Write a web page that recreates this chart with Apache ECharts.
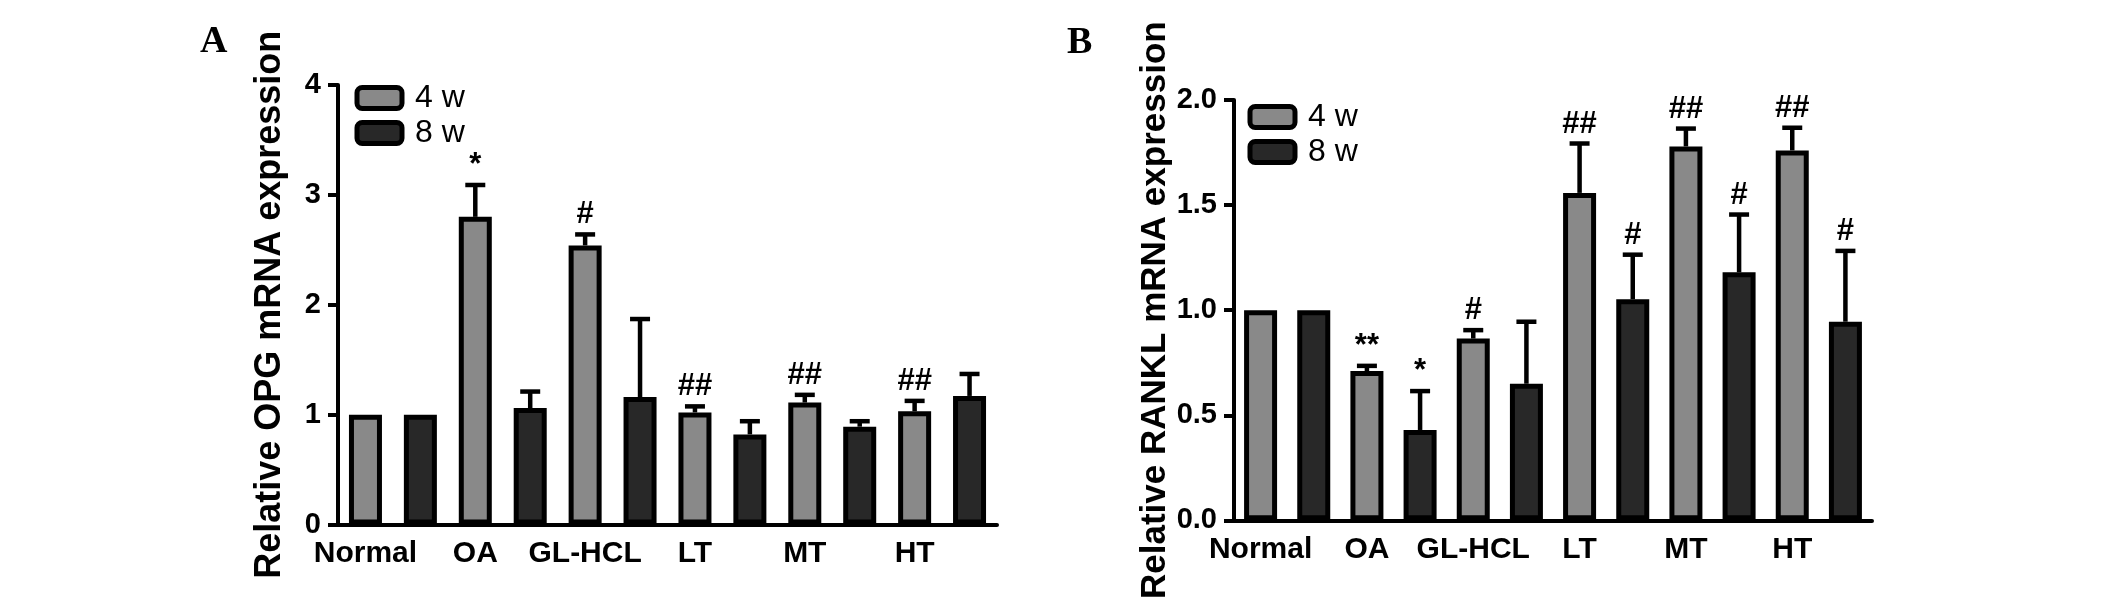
<!DOCTYPE html>
<html>
<head>
<meta charset="utf-8">
<script src="https://cdn.jsdelivr.net/npm/echarts@6/dist/echarts.min.js"></script>
<style>
html,body{margin:0;padding:0;background:#fff;}
#chart{width:2126px;height:601px;}
</style>
</head>
<body>
<div id="chart"></div>
<script>
// ---- data ----
const categories = ['Normal', 'OA', 'GL-HCL', 'LT', 'MT', 'HT'];
const seriesNames = ['4 w', '8 w'];

const opg4w = [1.00, 2.80, 2.54, 1.02, 1.11, 1.03];
const opg8w = [1.00, 1.06, 1.16, 0.82, 0.89, 1.17];
const opgErr4w = [0, 0.29, 0.10, 0.055, 0.07, 0.095];
const opgErr8w = [0, 0.15, 0.71, 0.12, 0.05, 0.20];
const opgSig4w = ['', '*', '#', '##', '##', '##'];
const opgSig8w = ['', '', '', '', '', ''];
const opgTicks = [0, 1, 2, 3, 4];

const rankl4w = [1.00, 0.71, 0.865, 1.558, 1.779, 1.76];
const rankl8w = [1.00, 0.43, 0.65, 1.052, 1.18, 0.945];
const ranklErr4w = [0, 0.025, 0.04, 0.235, 0.085, 0.108];
const ranklErr8w = [0, 0.185, 0.295, 0.212, 0.275, 0.337];
const ranklSig4w = ['', '**', '#', '##', '##', '##'];
const ranklSig8w = ['', '*', '', '#', '#', '#'];
const ranklTicks = [0, 0.5, 1.0, 1.5, 2.0];

const titleA = 'Relative OPG mRNA expression';
const titleB = 'Relative RANKL mRNA expression';

// ---- helpers ----
const FONT = '"Liberation Sans", Arial, sans-serif';
const GRAY = '#898989';
const DARK = '#282828';
const slots = categories.flatMap(c => [c, c + ' (8 w)']);
const isMain = (i) => i % 2 === 0;

function slotData(v4, v8) {
  return [categories.flatMap((c, i) => [v4[i], '-']), categories.flatMap((c, i) => ['-', v8[i]])];
}
function errData(v4, v8, e4, e8, s4, s8) {
  const data = [], sig = [];
  categories.forEach((c, i) => {
    data.push([2 * i, v4[i], e4[i]]); sig.push(s4[i]);
    data.push([2 * i + 1, v8[i], e8[i]]); sig.push(s8[i]);
  });
  return {data, sig};
}
function makeRender(sig) {
  return function (params, api) {
    const idx = api.value(0), m = api.value(1), e = api.value(2);
    const base = api.coord([idx, m]);
    const top = api.coord([idx, m + e]);
    const children = [];
    if (e > 0) {
      children.push({type: 'line', shape: {x1: base[0], y1: base[1], x2: base[0], y2: top[1]}, style: {stroke: '#000', lineWidth: 4.5}});
      children.push({type: 'line', shape: {x1: base[0] - 10, y1: top[1], x2: base[0] + 10, y2: top[1]}, style: {stroke: '#000', lineWidth: 4.5}});
    }
    const s = sig[params.dataIndex];
    if (s) {
      children.push({type: 'text', style: {text: s, x: base[0], y: (e > 0 ? top[1] : base[1]) - 4,
        align: 'center', verticalAlign: 'bottom', font: 'bold 31px ' + FONT, fill: '#000'}});
    }
    return {type: 'group', children};
  };
}

function xAxisCfg(gi) {
  return {
    type: 'category', gridIndex: gi, data: slots,
    axisLine: {lineStyle: {color: '#000', width: 4}},
    axisTick: {alignWithLabel: true, interval: isMain, length: 10, lineStyle: {color: '#000', width: 4}},
    axisLabel: {interval: isMain, formatter: v => v, margin: 14, color: '#000', fontSize: 30, fontWeight: 'bold', fontFamily: FONT},
    splitLine: {show: false}
  };
}
function yAxisCfg(gi, ticks, name, nameSize, fmt) {
  return {
    type: 'value', gridIndex: gi, min: ticks[0], max: ticks[ticks.length - 1], interval: ticks[1] - ticks[0],
    name: name, nameLocation: 'middle', nameGap: 50,
    nameTextStyle: {color: '#000', fontSize: nameSize, fontWeight: 'bold', fontFamily: FONT},
    axisLine: {show: true, lineStyle: {color: '#000', width: 4}},
    axisTick: {show: true, length: 10, lineStyle: {color: '#000', width: 4}},
    axisLabel: {margin: 17, color: '#000', fontSize: 29, fontWeight: 'bold', fontFamily: FONT, formatter: fmt},
    splitLine: {show: false}
  };
}
function barSeries(name, data, color, gi) {
  return {
    type: 'bar', name: name, xAxisIndex: gi, yAxisIndex: gi, data: data,
    barWidth: 33, barGap: '-100%',
    itemStyle: {color: color, borderColor: '#000', borderWidth: 5},
    emphasis: {disabled: true}, z: 2
  };
}
function legendCfg(left, top) {
  return {
    data: seriesNames, orient: 'vertical', left: left, top: top, padding: 0,
    itemWidth: 45, itemHeight: 21, itemGap: 3, icon: 'roundRect',
    itemStyle: {borderColor: '#000', borderWidth: 5},
    textStyle: {color: '#000', fontSize: 32, fontFamily: FONT, lineHeight: 32, padding: [0, 0, 0, 8]},
    selectedMode: false
  };
}

const [a4, a8] = slotData(opg4w, opg8w);
const [b4, b8] = slotData(rankl4w, rankl8w);
const ea = errData(opg4w, opg8w, opgErr4w, opgErr8w, opgSig4w, opgSig8w);
const eb = errData(rankl4w, rankl8w, ranklErr4w, ranklErr8w, ranklSig4w, ranklSig8w);

const chart = echarts.init(document.getElementById('chart'), null, {renderer: 'canvas'});
chart.setOption({
  backgroundColor: '#fff',
  animation: false,
  grid: [
    {left: 338, right: 1129, top: 85, bottom: 76.5},
    {left: 1234, right: 254, top: 100, bottom: 75.5}
  ],
  xAxis: [xAxisCfg(0), xAxisCfg(1)],
  yAxis: [
    yAxisCfg(0, opgTicks, titleA, 36, v => String(v)),
    yAxisCfg(1, ranklTicks, titleB, 35, v => v.toFixed(1))
  ],
  legend: [legendCfg(354.5, 82), legendCfg(1247.5, 101)],
  series: [
    barSeries(seriesNames[0], a4, GRAY, 0),
    barSeries(seriesNames[1], a8, DARK, 0),
    {type: 'custom', xAxisIndex: 0, yAxisIndex: 0, data: ea.data, renderItem: makeRender(ea.sig), z: 3, silent: true},
    barSeries(seriesNames[0], b4, GRAY, 1),
    barSeries(seriesNames[1], b8, DARK, 1),
    {type: 'custom', xAxisIndex: 1, yAxisIndex: 1, data: eb.data, renderItem: makeRender(eb.sig), z: 3, silent: true}
  ],
  graphic: [
    {type: 'text', left: 200, top: 23, style: {text: 'A', font: 'bold 38px "Liberation Serif", "Times New Roman", serif', fill: '#000'}},
    {type: 'text', left: 1067, top: 24, style: {text: 'B', font: 'bold 38px "Liberation Serif", "Times New Roman", serif', fill: '#000'}}
  ]
});
</script>
</body>
</html>
